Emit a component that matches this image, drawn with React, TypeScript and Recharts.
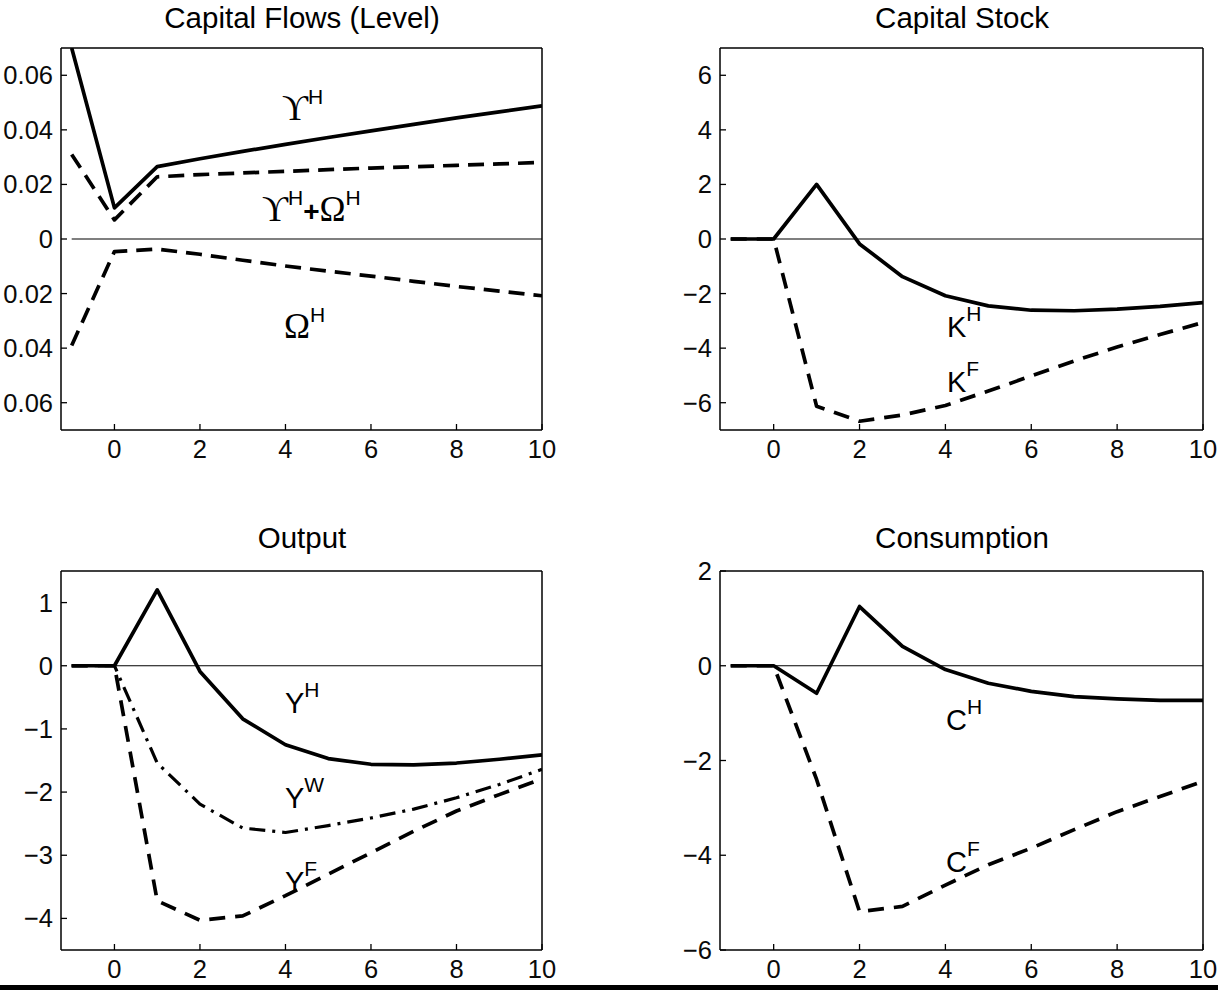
import React from 'react';
import { LineChart, Line, XAxis, YAxis, ReferenceLine } from 'recharts';

// ---------- data ----------
const periods = [-1, 0, 1, 2, 3, 4, 5, 6, 7, 8, 9, 10];
const periodTicks = [0, 2, 4, 6, 8, 10];

// Capital Flows (Level)
const upsilonH = [0.07, 0.0114, 0.0265, 0.0294, 0.0321, 0.0347, 0.0372, 0.0396, 0.042, 0.0444, 0.0466, 0.0488];
const upsilonPlusOmegaH = [0.031, 0.007, 0.0228, 0.0236, 0.0242, 0.0248, 0.0254, 0.026, 0.0265, 0.027, 0.0275, 0.0281];
const omegaH = [-0.039, -0.0046, -0.0037, -0.0056, -0.0078, -0.0099, -0.0118, -0.0136, -0.0155, -0.0174, -0.0191, -0.0208];
const flowTicks = [-0.06, -0.04, -0.02, 0, 0.02, 0.04, 0.06];

// Capital Stock
const capitalH = [0, 0, 2.0, -0.18, -1.38, -2.08, -2.45, -2.61, -2.63, -2.57, -2.47, -2.33];
const capitalF = [0, 0, -6.13, -6.68, -6.45, -6.1, -5.57, -5.02, -4.47, -3.96, -3.5, -3.06];
const stockTicks = [-6, -4, -2, 0, 2, 4, 6];

// Output
const outputH = [0, 0, 1.2, -0.09, -0.84, -1.25, -1.47, -1.56, -1.57, -1.54, -1.48, -1.41];
const outputW = [0, 0, -1.54, -2.19, -2.57, -2.64, -2.53, -2.41, -2.27, -2.09, -1.88, -1.64];
const outputF = [0, 0, -3.72, -4.03, -3.96, -3.64, -3.3, -2.96, -2.62, -2.3, -2.04, -1.79];
const outputTicks = [-4, -3, -2, -1, 0, 1];

// Consumption
const consH = [0, 0, -0.58, 1.25, 0.41, -0.08, -0.37, -0.54, -0.65, -0.7, -0.73, -0.73];
const consF = [0, 0, -2.4, -5.19, -5.08, -4.63, -4.2, -3.85, -3.46, -3.08, -2.76, -2.44];
const consTicks = [-6, -4, -2, 0, 2];

// ---------- helpers ----------
const MINUS = '\u2212';
// the reference image is cropped at its left edge, so the capital-flow labels show without their sign
const fmtFlow = (v: number) => (Math.abs(v) < 1e-9 ? '0' : Math.abs(v).toFixed(2));
const fmtInt = (v: number) => (v < 0 ? MINUS : '') + String(Math.abs(v));

const SANS = '"Liberation Sans", Arial, Helvetica, sans-serif';
const SERIF = '"Liberation Serif", "DejaVu Serif", "Times New Roman", serif';
const TICK_FONT = 25.5;
const tickStyle = { fontSize: TICK_FONT, fill: '#0a0a0a', fontFamily: SANS };

type SeriesDef = { key: string; values: number[]; dash?: string; width?: number };

type PanelProps = {
  left: number;
  top: number;
  width: number;
  height: number;
  margin: { top: number; right: number; bottom: number; left: number };
  yWidth: number;
  xHeight: number;
  yDomain: [number, number];
  yTicks: number[];
  fmt: (v: number) => string;
  series: SeriesDef[];
};

function Panel(p: PanelProps) {
  const data = periods.map((t, i) => {
    const row: Record<string, number> = { t };
    p.series.forEach((s) => {
      row[s.key] = s.values[i];
    });
    return row;
  });
  const axisLine = { stroke: '#000', strokeWidth: 1.5 };
  const tickLine = { stroke: '#000', strokeWidth: 1.3 };
  return (
    <div style={{ position: 'absolute', left: p.left, top: p.top }}>
      <LineChart width={p.width} height={p.height} data={data} margin={p.margin}>
        <XAxis
          dataKey="t"
          type="number"
          domain={[-1.25, 10]}
          ticks={periodTicks}
          interval={0}
          allowDataOverflow
          height={p.xHeight}
          tickSize={-6}
          tickMargin={16}
          axisLine={axisLine}
          tickLine={tickLine}
          tick={tickStyle}
        />
        <XAxis
          xAxisId="top"
          orientation="top"
          dataKey="t"
          type="number"
          domain={[-1.25, 10]}
          ticks={periodTicks}
          interval={0}
          allowDataOverflow
          height={1}
          tickSize={-6}
          axisLine={axisLine}
          tickLine={tickLine}
          tick={false}
        />
        <YAxis
          type="number"
          domain={p.yDomain}
          ticks={p.yTicks}
          interval={0}
          allowDataOverflow
          width={p.yWidth}
          tickSize={-6}
          tickMargin={14}
          tickFormatter={p.fmt}
          axisLine={axisLine}
          tickLine={tickLine}
          tick={tickStyle}
        />
        <YAxis
          yAxisId="right"
          orientation="right"
          type="number"
          domain={p.yDomain}
          ticks={p.yTicks}
          interval={0}
          allowDataOverflow
          width={1}
          tickSize={-6}
          axisLine={axisLine}
          tickLine={tickLine}
          tick={false}
        />
        <ReferenceLine
          segment={[
            { x: periods[0], y: 0 },
            { x: periods[periods.length - 1], y: 0 },
          ]}
          stroke="#000"
          strokeWidth={1.2}
        />
        {/* invisible series so the top / right frame axes are bound to data */}
        <Line
          xAxisId="top"
          yAxisId="right"
          dataKey={p.series[0].key}
          stroke="none"
          strokeOpacity={0}
          dot={false}
          activeDot={false}
          isAnimationActive={false}
        />
        {p.series.map((s) => (
          <Line
            key={s.key}
            dataKey={s.key}
            type="linear"
            stroke="#000"
            strokeWidth={s.width ?? 3.7}
            strokeDasharray={s.dash}
            strokeLinejoin="round"
            dot={false}
            activeDot={false}
            isAnimationActive={false}
          />
        ))}
      </LineChart>
    </div>
  );
}

function SupLabel({ x, y, parts }: { x: number; y: number; parts: { base: string; sup?: string; serif?: boolean; size?: number; bold?: boolean }[] }) {
  const raise = 16;
  const nodes: React.ReactNode[] = [];
  let lifted = false;
  parts.forEach((pt, i) => {
    nodes.push(
      <tspan
        key={'b' + i}
        dy={lifted ? raise : 0}
        fontFamily={pt.serif ? SERIF : SANS}
        fontSize={pt.size ?? 29}
        fontWeight={pt.bold ? 'bold' : 'normal'}
      >
        {pt.base}
      </tspan>
    );
    lifted = false;
    if (pt.sup) {
      nodes.push(
        <tspan key={'s' + i} dy={-raise} fontFamily={SANS} fontSize={21}>
          {pt.sup}
        </tspan>
      );
      lifted = true;
    }
  });
  return (
    <text x={x} y={y} fill="#000">
      {nodes}
    </text>
  );
}

export default function App() {
  const leftCol = { left: 0, width: 560, right: 17, yWidth: 61 };
  const rightCol = { left: 660, width: 560, right: 16, yWidth: 60 };
  const topRow = { top: 0, height: 480, mTop: 47, xHeight: 50 };
  const botRow = { top: 520, height: 470, mTop: 50, xHeight: 40 };

  return (
    <div style={{ position: 'absolute', left: 0, top: 0, width: 1218, height: 990, background: '#fff', overflow: 'hidden' }}>
      <Panel
        left={leftCol.left}
        top={topRow.top}
        width={leftCol.width}
        height={topRow.height}
        margin={{ top: topRow.mTop, right: leftCol.right, bottom: 0, left: 0 }}
        yWidth={leftCol.yWidth}
        xHeight={topRow.xHeight}
        yDomain={[-0.07, 0.07]}
        yTicks={flowTicks}
        fmt={fmtFlow}
        series={[
          { key: 'omegaH', values: omegaH, dash: '16 9' },
          { key: 'upsilonPlusOmegaH', values: upsilonPlusOmegaH, dash: '16 9' },
          { key: 'upsilonH', values: upsilonH },
        ]}
      />
      <Panel
        left={rightCol.left}
        top={topRow.top}
        width={rightCol.width}
        height={topRow.height}
        margin={{ top: topRow.mTop, right: rightCol.right, bottom: 0, left: 0 }}
        yWidth={rightCol.yWidth}
        xHeight={topRow.xHeight}
        yDomain={[-7, 7]}
        yTicks={stockTicks}
        fmt={fmtInt}
        series={[
          { key: 'capitalF', values: capitalF, dash: '16 10' },
          { key: 'capitalH', values: capitalH },
        ]}
      />
      <Panel
        left={leftCol.left}
        top={botRow.top}
        width={leftCol.width}
        height={botRow.height}
        margin={{ top: botRow.mTop, right: leftCol.right, bottom: 0, left: 0 }}
        yWidth={leftCol.yWidth}
        xHeight={botRow.xHeight}
        yDomain={[-4.5, 1.5]}
        yTicks={outputTicks}
        fmt={fmtInt}
        series={[
          { key: 'outputF', values: outputF, dash: '16 10' },
          { key: 'outputW', values: outputW, dash: '16 7 3 7', width: 3.2 },
          { key: 'outputH', values: outputH },
        ]}
      />
      <Panel
        left={rightCol.left}
        top={botRow.top}
        width={rightCol.width}
        height={botRow.height}
        margin={{ top: botRow.mTop, right: rightCol.right, bottom: 0, left: 0 }}
        yWidth={rightCol.yWidth}
        xHeight={botRow.xHeight}
        yDomain={[-6, 2]}
        yTicks={consTicks}
        fmt={fmtInt}
        series={[
          { key: 'consF', values: consF, dash: '16 10' },
          { key: 'consH', values: consH },
        ]}
      />

      <svg
        width={1218}
        height={990}
        style={{ position: 'absolute', left: 0, top: 0, pointerEvents: 'none' }}
      >
        <g fontFamily={SANS} fontSize={29.5} fill="#000" textAnchor="middle">
          <text x={302} y={28}>Capital Flows (Level)</text>
          <text x={962} y={28}>Capital Stock</text>
          <text x={302} y={548}>Output</text>
          <text x={962} y={548}>Consumption</text>
        </g>

        <SupLabel x={282} y={120} parts={[{ base: '\u03D2', sup: 'H', serif: true, size: 36 }]} />
        <SupLabel
          x={262}
          y={221}
          parts={[
            { base: '\u03D2', sup: 'H', serif: true, size: 36 },
            { base: '+', size: 28, bold: true },
            { base: '\u03A9', sup: 'H', serif: true, size: 35 },
          ]}
        />
        <SupLabel x={284} y={338} parts={[{ base: '\u03A9', sup: 'H', serif: true, size: 35 }]} />

        <SupLabel x={947} y={337} parts={[{ base: 'K', sup: 'H' }]} />
        <SupLabel x={947} y={392} parts={[{ base: 'K', sup: 'F' }]} />

        <SupLabel x={285} y={713} parts={[{ base: 'Y', sup: 'H' }]} />
        <SupLabel x={285} y={808} parts={[{ base: 'Y', sup: 'W' }]} />
        <SupLabel x={285} y={892} parts={[{ base: 'Y', sup: 'F' }]} />

        <SupLabel x={946} y={730} parts={[{ base: 'C', sup: 'H' }]} />
        <SupLabel x={946} y={872} parts={[{ base: 'C', sup: 'F' }]} />

        <rect x={0} y={985} width={1218} height={5} fill="#000" />
      </svg>
    </div>
  );
}
